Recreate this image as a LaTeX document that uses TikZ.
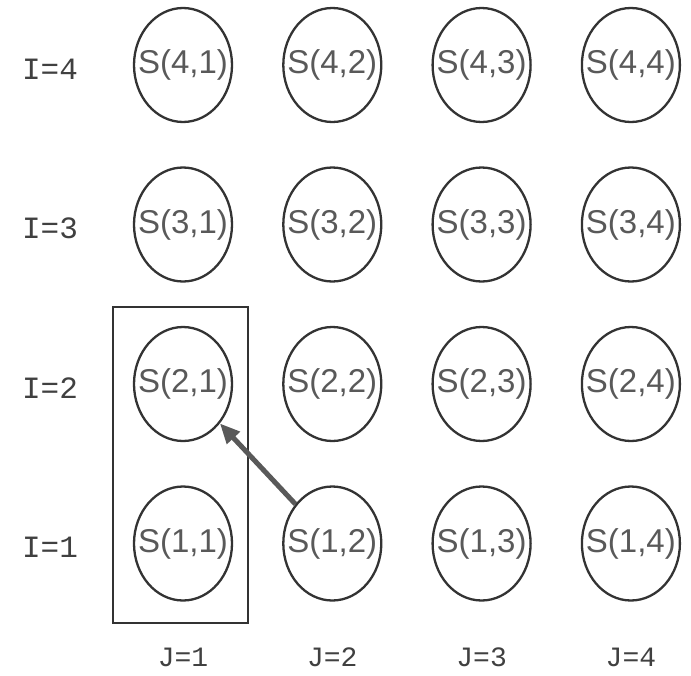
\documentclass[tikz,border=0pt]{standalone}
\usepackage{fontspec}
\setmainfont{Liberation Sans}
\setmonofont{Liberation Mono}
\usetikzlibrary{arrows.meta, shapes.geometric}

\begin{document}
\begin{tikzpicture}[x=1pt, y=-1pt, >={Triangle[length=20pt, width=17pt]},
  cell/.style={ellipse, draw=black!80, line width=2.3pt, minimum width=98pt,
    minimum height=114pt, inner sep=0pt, text=black!65,
    font=\fontsize{33}{33}\selectfont},
  rowlab/.style={font=\ttfamily\fontsize{31}{31}\selectfont, text=black!75,
    inner sep=0pt},
  collab/.style={font=\ttfamily\fontsize{28}{28}\selectfont, text=black!75,
    inner sep=0pt}]

  \useasboundingbox (0,0) rectangle (691,675);

  % --- grid of cells, row I from bottom, column J from left ---
  \foreach \i in {1,...,4} {
    \node[rowlab] (I\i) at (50, {69+159.5*(4-\i)}) {I=\i};
    \foreach \j in {1,...,4}
      \node[cell] (s\i\j) at ({183+149.3*(\j-1)}, {65+159.5*(4-\i)})
        {\makebox[0pt]{S(\i,\j)}};
  }
  \foreach \j in {1,...,4}
    \node[collab] (J\j) at ({183+149.3*(\j-1)}, 657) {J=\j};

  % --- box round column J=1, rows 1..2 ---
  \draw[line width=2pt, black!80] (113,307) rectangle (248,623);

  % --- transfer from S(1,2) to S(2,1) ---
  \draw[->, line width=5pt, black!65] (s12) -- (s21);

\end{tikzpicture}
\end{document}
